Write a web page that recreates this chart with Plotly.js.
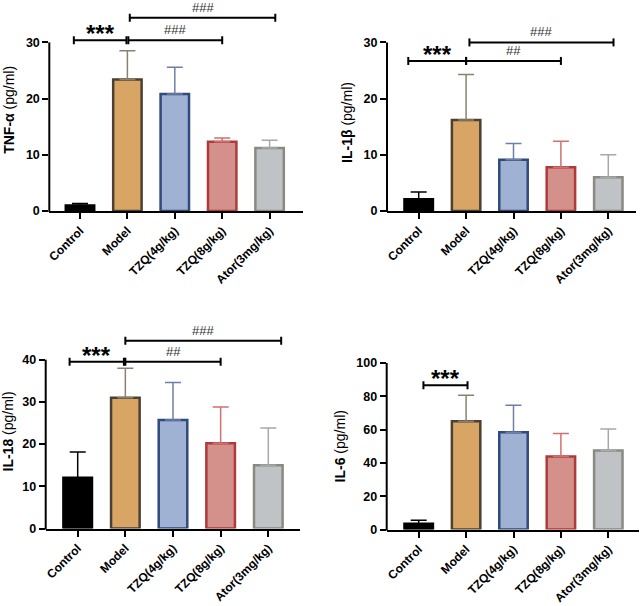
<!DOCTYPE html>
<html>
<head>
<meta charset="utf-8">
<script src="https://cdn.plot.ly/plotly-3.0.1.min.js"></script>
<style>
  html, body { margin: 0; padding: 0; background: #fff; }
  #chart { width: 642px; height: 606px; }
</style>
</head>
<body>
<div id="chart"></div>
<script>
// groups on the x axis
var categories = ['Control', 'Model', 'TZQ(4g/kg)', 'TZQ(8g/kg)', 'Ator(3mg/kg)'];

// mean and SD
var tnfMean  = [1.0, 23.4, 20.8, 12.3, 11.2];
var tnfSd    = [0.35, 5.1, 4.8, 0.7, 1.4];
var il1bMean = [2.1, 16.2, 9.1, 7.8, 6.0];
var il1bSd   = [1.3, 8.1, 2.9, 4.6, 4.0];
var il18Mean = [12.0, 31.0, 25.7, 20.2, 15.0];
var il18Sd   = [6.1, 7.0, 8.9, 8.6, 8.8];
var il6Mean  = [3.4, 65.0, 58.4, 43.8, 47.5];
var il6Sd    = [2.1, 15.6, 16.2, 13.8, 12.9];

// significance brackets: [from, to, level, label]
var tnfMarks  = [[-0.13, 0.98, 30.4, '***'], [1.02, 3.0, 30.4, '###'], [1.05, 4.12, 34.4, '###']];
var il1bMarks = [[-0.22, 1.0, 26.7, '***'], [1.0, 3.0, 26.7, '##'], [1.07, 4.11, 30.0, '###']];
var il18Marks = [[-0.17, 0.97, 39.5, '***'], [1.0, 3.0, 39.5, '##'], [1.0, 4.27, 44.5, '###']];
var il6Marks  = [[0.1, 1.03, 86.7, '***']];

var tnfTicks  = [0, 10, 20, 30];
var il1bTicks = [0, 10, 20, 30];
var il18Ticks = [0, 10, 20, 30, 40];
var il6Ticks  = [0, 20, 40, 60, 80, 100];

var fillColors = ['#000000', '#D9A565', '#A0B2D3', '#D4908A', '#BFC3C6'];
var edgeColors = ['#000000', '#4B4032', '#2F4A7B', '#B03A3A', '#8A8A82'];
var errColors  = ['#000000', '#8A8070', '#6C80A5', '#D07070', '#A8A8A8'];

var W = 642, H = 606;
var FONT = 'Arial, "Liberation Sans", sans-serif';

// pixel geometry of each panel: y-axis x, x-axis end, zero line y, px per unit, range top
var panels = [
  {mean: tnfMean,  sd: tnfSd,  marks: tnfMarks,  ticks: tnfTicks,  title: '<b>TNF-α</b> (pg/ml)',
   xl: 49.3, xr: 302.7, c0: 80, sp: 47.4, y0: 211, ppu: 5.62, ymax: 36},
  {mean: il1bMean, sd: il1bSd, marks: il1bMarks, ticks: il1bTicks, title: '<b>IL-1β</b> (pg/ml)',
   xl: 387, xr: 636, c0: 418.7, sp: 47.4, y0: 211, ppu: 5.62, ymax: 31.5},
  {mean: il18Mean, sd: il18Sd, marks: il18Marks, ticks: il18Ticks, title: '<b>IL-18</b> (pg/ml)',
   xl: 45.7, xr: 300, c0: 77.7, sp: 47.65, y0: 528.5, ppu: 4.22, ymax: 46},
  {mean: il6Mean,  sd: il6Sd,  marks: il6Marks,  ticks: il6Ticks,  title: '<b>IL-6</b> (pg/ml)',
   xl: 386.7, xr: 639, c0: 418.7, sp: 47.4, y0: 529.5, ppu: 1.665, ymax: 100}
];

var data = [];
var layout = {
  width: W, height: H,
  margin: {l: 0, r: 0, t: 0, b: 0},
  paper_bgcolor: '#fff', plot_bgcolor: 'rgba(0,0,0,0)',
  showlegend: false,
  barmode: 'overlay',
  font: {family: FONT, color: '#000'},
  shapes: [], annotations: []
};

panels.forEach(function (p, k) {
  var n = k + 1;
  var xa = 'x' + (n > 1 ? n : ''), ya = 'y' + (n > 1 ? n : '');
  var xKey = 'xaxis' + (n > 1 ? n : ''), yKey = 'yaxis' + (n > 1 ? n : '');

  categories.forEach(function (c, i) {
    data.push({
      type: 'bar', x: [c], y: [p.mean[i]], xaxis: xa, yaxis: ya,
      width: 0.6,
      marker: {color: fillColors[i], line: {color: edgeColors[i], width: 2.5}},
      error_y: {type: 'data', symmetric: false, array: [p.sd[i]], arrayminus: [0],
                color: errColors[i], thickness: 1.5, width: 8},
      hoverinfo: 'x+y'
    });
  });

  var yBottom = p.y0, yTop = p.y0 - p.ymax * p.ppu;
  layout[xKey] = {
    domain: [p.xl / W, p.xr / W], anchor: ya,
    type: 'category', categoryorder: 'array', categoryarray: categories,
    range: [(p.xl - p.c0) / p.sp, (p.xr - p.c0) / p.sp],
    showline: true, linecolor: '#000', linewidth: 2,
    ticks: 'outside', ticklen: 6, tickwidth: 2, tickcolor: '#000',
    tickangle: -45, ticklabelstandoff: 0,
    tickfont: {family: FONT, size: 12, weight: 'bold', color: '#000'},
    showgrid: false, zeroline: false, fixedrange: true
  };
  layout[yKey] = {
    domain: [(H - yBottom) / H, (H - yTop) / H], anchor: xa,
    range: [0, p.ymax],
    tickvals: p.ticks,
    showline: false,
    ticks: 'outside', ticklen: 6, tickwidth: 2, tickcolor: '#000',
    tickfont: {family: FONT, size: 12.5, weight: 'bold', color: '#000'},
    title: {text: p.title, font: {family: FONT, size: 14, color: '#000'}, standoff: 7},
    showgrid: false, zeroline: false, fixedrange: true
  };

  // y axis line only up to the last tick
  var topTick = p.ticks[p.ticks.length - 1];
  layout.shapes.push({
    type: 'line', xref: 'paper', yref: 'paper',
    x0: p.xl / W, x1: p.xl / W,
    y0: (H - yBottom - 1) / H, y1: (H - (p.y0 - topTick * p.ppu)) / H,
    line: {color: '#000', width: 2}
  });

  p.marks.forEach(function (m) {
    var lw = 2;
    layout.shapes.push({type: 'line', xref: xa, yref: ya, x0: m[0], x1: m[1], y0: m[2], y1: m[2],
                        line: {color: '#000', width: lw}});
    [m[0], m[1]].forEach(function (xe) {
      layout.shapes.push({type: 'line', xref: xa, yref: ya, ysizemode: 'pixel', yanchor: m[2],
                          x0: xe, x1: xe, y0: -4, y1: 4, line: {color: '#000', width: lw}});
    });
    var star = m[3].charAt(0) === '*';
    layout.annotations.push({
      xref: xa, yref: ya, x: (m[0] + m[1]) / 2, y: m[2],
      text: star ? '<b>' + m[3] + '</b>' : m[3],
      showarrow: false, xanchor: 'center', yanchor: 'bottom',
      yshift: star ? -9 : 1,
      font: {family: FONT, size: star ? 24 : 13, color: star ? '#000' : '#333'}
    });
  });
});

Plotly.newPlot('chart', data, layout, {displayModeBar: false, staticPlot: true});
</script>
</body>
</html>
